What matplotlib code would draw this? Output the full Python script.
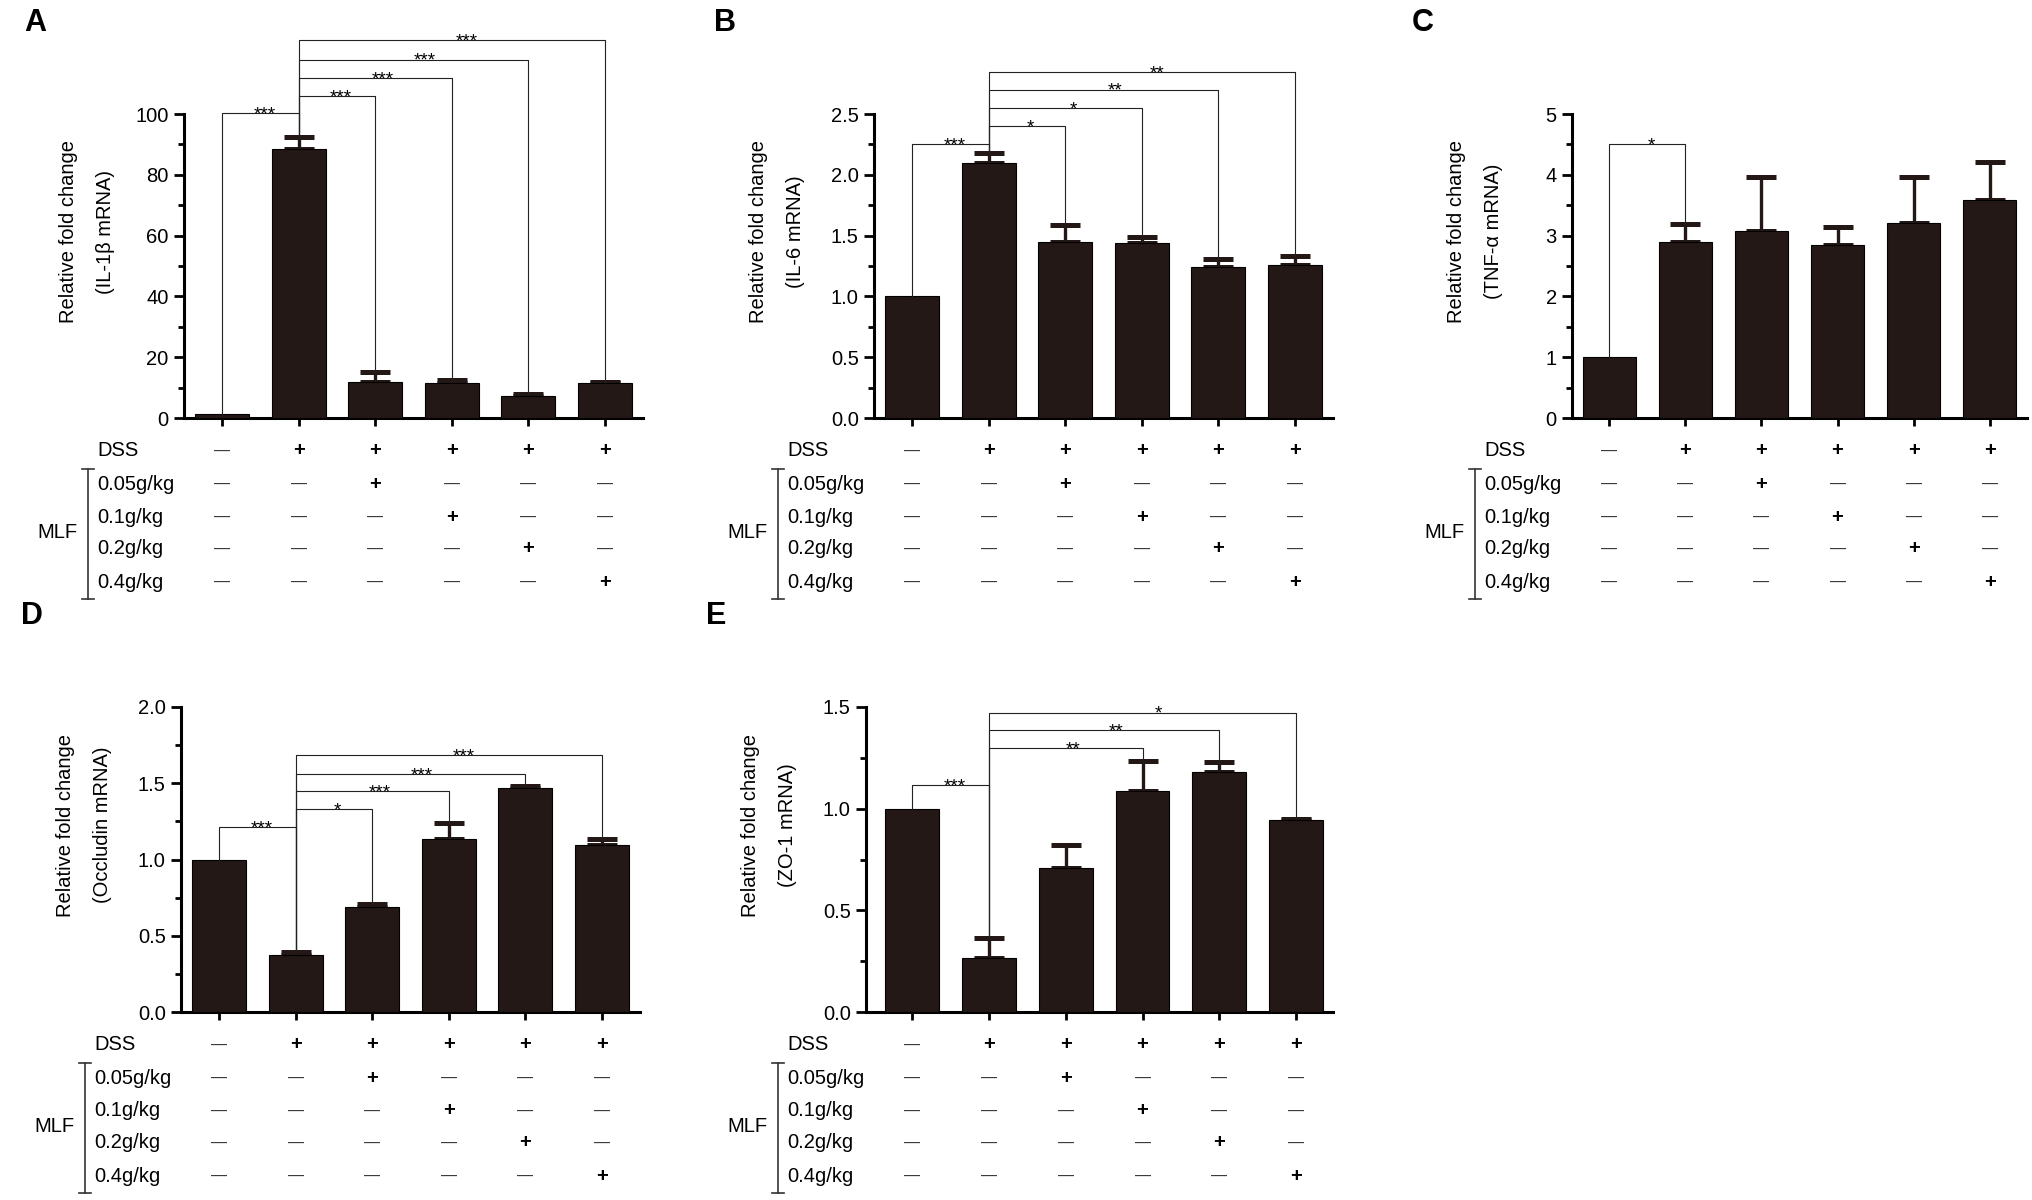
import matplotlib
matplotlib.use('Agg')
import numpy as np
import matplotlib.pyplot as plt
import matplotlib.transforms as mtransforms
from matplotlib.ticker import MultipleLocator

plt.rcParams['font.family'] = ['Liberation Sans', 'DejaVu Sans']

# ---- data ----
il1b = [1.3, 88.6, 12.0, 11.6, 7.4, 11.4]
il1b_err = [0, 3.9, 3.1, 0.9, 0.6, 0.6]
il6 = [1.0, 2.10, 1.45, 1.44, 1.24, 1.26]
il6_err = [0, 0.08, 0.135, 0.05, 0.07, 0.07]
tnfa = [1.01, 2.89, 3.07, 2.84, 3.20, 3.58]
tnfa_err = [0, 0.30, 0.89, 0.30, 0.76, 0.63]
occludin = [1.0, 0.372, 0.687, 1.137, 1.469, 1.097]
occludin_err = [0, 0.023, 0.022, 0.103, 0.011, 0.04]
zo1 = [1.0, 0.266, 0.708, 1.085, 1.18, 0.944]
zo1_err = [0, 0.098, 0.114, 0.151, 0.05, 0.007]

# significance brackets: (group i, group j, height, stars)
il1b_sig = [(0, 1, 100.3, '***'), (1, 2, 105.9, '***'), (1, 3, 111.8, '***'),
            (1, 4, 117.9, '***'), (1, 5, 124.2, '***')]
il6_sig = [(0, 1, 2.255, '***'), (1, 2, 2.40, '*'), (1, 3, 2.547, '*'),
           (1, 4, 2.70, '**'), (1, 5, 2.843, '**')]
tnfa_sig = [(0, 1, 4.50, '*')]
occludin_sig = [(0, 1, 1.21, '***'), (1, 2, 1.33, '*'), (1, 3, 1.449, '***'),
                (1, 4, 1.56, '***'), (1, 5, 1.686, '***')]
zo1_sig = [(0, 1, 1.114, '***'), (1, 3, 1.296, '**'), (1, 4, 1.385, '**'),
           (1, 5, 1.472, '*')]

# treatment table under each chart
row_labels = ['DSS', '0.05g/kg', '0.1g/kg', '0.2g/kg', '0.4g/kg']
rows = [['—', '+', '+', '+', '+', '+'],
        ['—', '—', '+', '—', '—', '—'],
        ['—', '—', '—', '+', '—', '—'],
        ['—', '—', '—', '—', '+', '—'],
        ['—', '—', '—', '—', '—', '+']]

BAR = '#231815'
W, H = 2033, 1200
fig = plt.figure(figsize=(W / 100, H / 100), dpi=100)


def panel(rect, letter, vals, errs, sig, ylim, major, minor, ylab, xlim=(-0.5, 5.5)):
    left, top, right, bottom = rect
    ax = fig.add_axes([left / W, 1 - bottom / H, (right - left) / W, (bottom - top) / H])
    x = np.arange(len(vals))
    ax.bar(x, vals, width=0.7, color=BAR, edgecolor='black', linewidth=0.8, zorder=3)
    errs = np.array(errs)
    m = errs > 0
    ax.errorbar(x[m], np.array(vals)[m], yerr=[np.zeros(m.sum()), errs[m]], fmt='none',
                ecolor=BAR, elinewidth=2.4, capsize=10.5, capthick=3.6, zorder=2)
    ax.set_xlim(*xlim)
    ax.set_ylim(*ylim)
    ax.yaxis.set_major_locator(MultipleLocator(major))
    ax.yaxis.set_minor_locator(MultipleLocator(minor))
    ax.set_xticks(x)
    ax.set_xticklabels([])
    for s in ['top', 'right']:
        ax.spines[s].set_visible(False)
    for s in ['left', 'bottom']:
        ax.spines[s].set_linewidth(2.2)
    ax.tick_params(axis='y', which='major', length=7, width=2, labelsize=14.5, pad=4)
    ax.tick_params(axis='y', which='minor', length=4.5, width=2)
    ax.tick_params(axis='x', length=6, width=2)
    if major < 1 and ylim[1] < 3:
        ax.yaxis.set_major_formatter(plt.FormatStrFormatter('%.1f'))

    tops = np.array(vals) + errs
    for i, j, y, lab in sig:
        ax.plot([i, i, j, j], [tops[i], y, y, tops[j]], color='#222222', lw=0.8,
                clip_on=False, zorder=4)
        ax.annotate(lab, (i + 0.55 * (j - i), y), xytext=(0, -4.5), textcoords='offset points',
                    ha='center', va='baseline', fontsize=13.5, annotation_clip=False)

    # y label as two lines
    wpx = right - left
    ax.text(-115 / wpx, 0.613, ylab[0], rotation=90, ha='center', va='center',
            transform=ax.transAxes, fontsize=14.5)
    ax.text(-78 / wpx, 0.613, ylab[1], rotation=90, ha='center', va='center',
            transform=ax.transAxes, fontsize=14.5)

    # panel letter
    fig.text(24 / W + (left - 184) / W, 1 - (top - 91) / H, letter, fontsize=22,
             fontweight='bold', ha='left', va='center')

    # treatment table
    blend = mtransforms.blended_transform_factory(ax.transData, fig.transFigure)
    spacing = wpx / (xlim[1] - xlim[0])
    offs = [33, 66, 99, 131, 164]
    for r, (lab, marks) in enumerate(zip(row_labels, rows)):
        yf = 1 - (bottom + offs[r]) / H
        ax.text(-125 / spacing, yf, lab, transform=blend, ha='left', va='center',
                fontsize=14.5, clip_on=False)
        for k, s in enumerate(marks):
            if s == '+':
                ax.text(k, yf, s, transform=blend, ha='center', va='center',
                        fontsize=14.5, fontweight='bold', clip_on=False)
            else:
                ax.text(k, yf, s, transform=blend, ha='center', va='center',
                        fontsize=11.5, color='#333333', clip_on=False)
    ax.text(-145 / spacing, 1 - (bottom + 114) / H, 'MLF', transform=blend, ha='right',
            va='center', fontsize=14.5, clip_on=False)
    bx = -134 / spacing
    tk = 6 / spacing
    y0 = 1 - (bottom + 51) / H
    y1 = 1 - (bottom + 181) / H
    ax.plot([bx, bx], [y0, y1], transform=blend, color='#333333', lw=1.2, clip_on=False)
    ax.plot([bx - tk, bx + tk], [y0, y0], transform=blend, color='#333333', lw=1.2, clip_on=False)
    ax.plot([bx - tk, bx + tk], [y1, y1], transform=blend, color='#333333', lw=1.2, clip_on=False)
    return ax


panel((184, 114, 643, 418), 'A', il1b, il1b_err, il1b_sig, (0, 100), 20, 10,
      ['Relative fold change', '(IL-1β mRNA)'])
panel((874, 114, 1333, 418), 'B', il6, il6_err, il6_sig, (0, 2.5), 0.5, 0.25,
      ['Relative fold change', '(IL-6 mRNA)'])
panel((1572, 114, 2027, 418), 'C', tnfa, tnfa_err, tnfa_sig, (0, 5), 1, 0.5,
      ['Relative fold change', '(TNF-α mRNA)'], xlim=(-0.49, 5.49))
panel((181, 707, 640, 1012), 'D', occludin, occludin_err, occludin_sig, (0, 2.0), 0.5, 0.25,
      ['Relative fold change', '(Occludin mRNA)'])
panel((866, 707, 1333, 1012), 'E', zo1, zo1_err, zo1_sig, (0, 1.5), 0.5, 0.25,
      ['Relative fold change', '(ZO-1 mRNA)'], xlim=(-0.6, 5.48))

fig.savefig('out.png', dpi=100)
